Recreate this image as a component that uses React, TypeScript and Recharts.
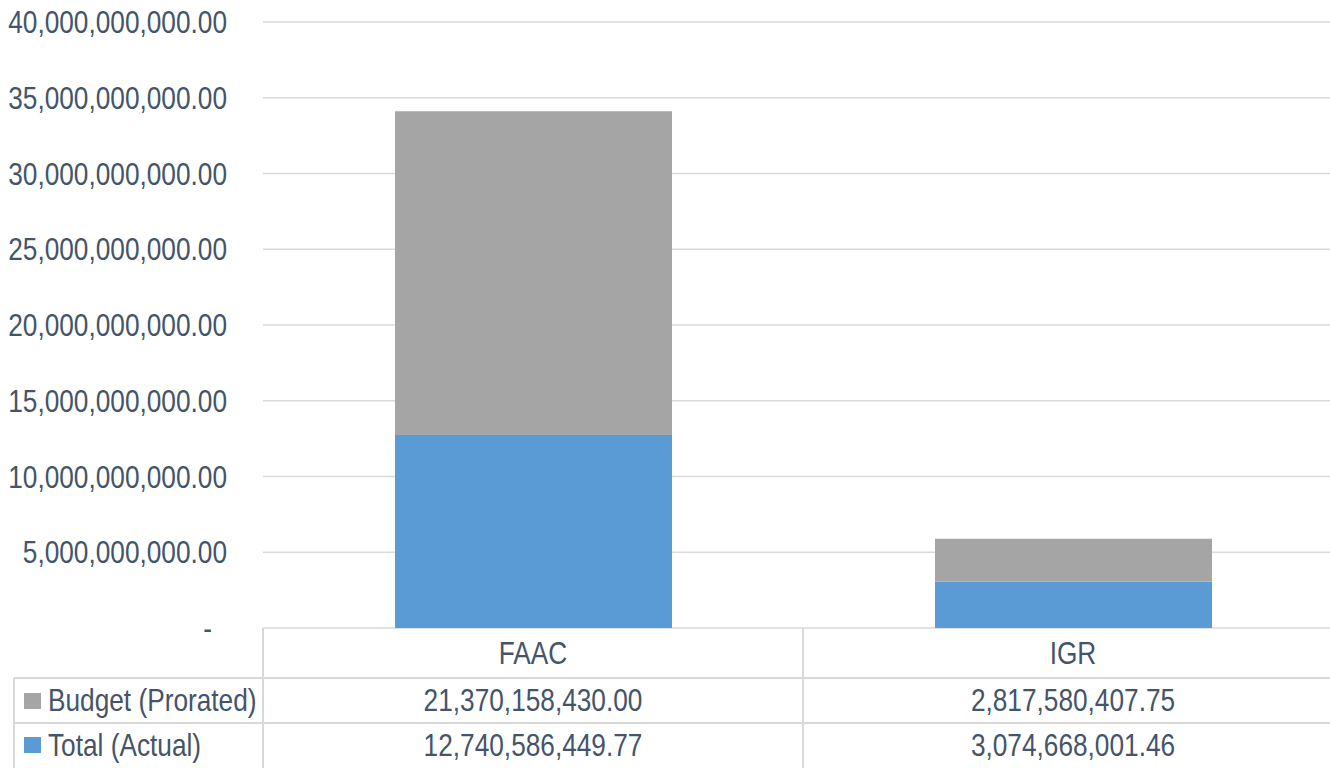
import { Bar, BarChart, CartesianGrid, XAxis, YAxis } from "recharts"

const categories = ["FAAC", "IGR"]
const budgetProrated = [21370158430.0, 2817580407.75]
const totalActual = [12740586449.77, 3074668001.46]
const yTicks = [0, 5e9, 10e9, 15e9, 20e9, 25e9, 30e9, 35e9, 40e9]

const seriesNames = { budget: "Budget (Prorated)", actual: "Total (Actual)" }
const BLUE = "#5B9BD5"
const GRAY = "#A5A5A5"
const TEXT = "#44546A"
const LINE = "#D9D9D9"
const FONT = "'Liberation Sans', Arial, sans-serif"
const FS = 32
const SX = 0.82 // squeeze to look like Arial Narrow

const fmt = (v: number) =>
  v === 0 ? "-" : v.toLocaleString("en-US", { minimumFractionDigits: 2, maximumFractionDigits: 2 })

const data = categories.map((name, i) => ({
  name,
  actual: totalActual[i],
  budget: budgetProrated[i],
}))

function NText({ x, y, anchor = "start", children }: any) {
  return (
    <text
      transform={`translate(${x},${y}) scale(${SX},1)`}
      dy="0.35em"
      textAnchor={anchor}
      fill={TEXT}
      fontSize={FS}
      fontFamily={FONT}
    >
      {children}
    </text>
  )
}

function YTick({ y, payload }: any) {
  const v = payload.value
  return (
    <NText x={v === 0 ? 212 : 227} y={y} anchor="end">
      {fmt(v)}
    </NText>
  )
}

// data table under the plot, one column per category
function TableTick({ x, payload, index }: any) {
  const i = payload?.index ?? index
  const half = payload?.offset || 270
  const left = x - half
  const right = x + half
  const top = 628
  const r1 = top + 50
  const r2 = top + 95
  const bottom = 768
  return (
    <g>
      <line x1={left} x2={left} y1={top} y2={bottom} stroke={LINE} strokeWidth={2} />
      <line x1={right} x2={right} y1={top} y2={bottom} stroke={LINE} strokeWidth={2} />
      <line x1={i === 0 ? 14 : left} x2={right} y1={r1} y2={r1} stroke={LINE} strokeWidth={2} />
      <line x1={i === 0 ? 14 : left} x2={right} y1={r2} y2={r2} stroke={LINE} strokeWidth={2} />
      {i === 0 && (
        <g>
          <line x1={14} x2={14} y1={r1} y2={bottom} stroke={LINE} strokeWidth={2} />
          <rect x={24} y={693} width={17} height={16} fill={GRAY} />
          <NText x={48} y={700}>{seriesNames.budget}</NText>
          <rect x={24} y={737} width={17} height={16} fill={BLUE} />
          <NText x={48} y={745}>{seriesNames.actual}</NText>
        </g>
      )}
      <NText x={x} y={653} anchor="middle">{categories[i]}</NText>
      <NText x={x} y={700} anchor="middle">{fmt(budgetProrated[i])}</NText>
      <NText x={x} y={745} anchor="middle">{fmt(totalActual[i])}</NText>
    </g>
  )
}

export default function App() {
  return (
    <div style={{ position: "absolute", left: 0, top: 0, width: 1330, height: 768, overflow: "hidden", background: "#fff" }}>
      <BarChart width={1345} height={768} data={data} margin={{ top: 22, right: 2, left: 0, bottom: 0 }}>
        <CartesianGrid vertical={false} stroke={LINE} strokeWidth={1.5} />
        <XAxis
          dataKey="name"
          height={140}
          axisLine={false}
          tickLine={false}
          tickSize={0}
          tick={<TableTick />}
          interval={0}
        />
        <YAxis
          width={263}
          domain={[0, 40e9]}
          ticks={yTicks}
          axisLine={false}
          tickLine={false}
          tick={<YTick />}
          interval={0}
        />
        <Bar dataKey="actual" stackId="a" fill={BLUE} barSize={277} isAnimationActive={false} />
        <Bar dataKey="budget" stackId="a" fill={GRAY} barSize={277} isAnimationActive={false} />
      </BarChart>
    </div>
  )
}
